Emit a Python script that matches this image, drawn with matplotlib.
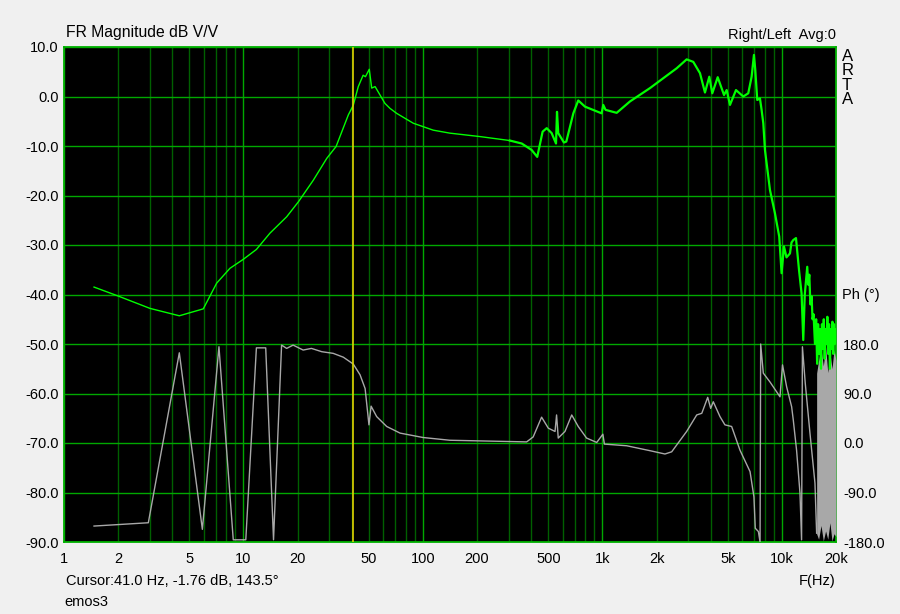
import matplotlib
matplotlib.use("Agg")
import matplotlib.pyplot as plt
import numpy as np

# --- magnitude response (Hz, dB) ---
mag_freq = [1.47, 2.0, 3.01, 4.39, 5.97, 7.09, 8.41, 9.97, 11.8, 14.05, 17.4, 20.2,
            24.5, 29.1, 32.8, 38.4, 40.9, 43.6, 46.4, 47.8, 50.2, 51.8, 54.1, 61.4,
            65.5, 71.3, 88.3, 114, 141, 208, 305, 355, 403, 433, 464, 489, 521, 551,
            558, 567, 610, 629, 688, 733, 799, 989, 1010, 1040, 1200, 1423, 1840,
            2182, 2590, 2944, 3205, 3494, 3724, 3937, 4090, 4385, 4755, 4920, 5133,
            5545, 6086, 6490, 6776, 6980, 7100, 7282, 7540, 7700, 7870, 8040, 8574,
            9140, 9655, 9950, 10260, 10600, 11080, 11300, 11560, 11970, 12440, 12860,
            13140, 13400, 13830, 14000, 14200, 14400, 14630, 14800, 15000, 15270,
            15500, 15700, 15900, 16100, 16300, 16500, 16700, 16900, 17100, 17300,
            17500, 17700, 17900, 18100, 18300, 18500, 18700, 18900, 19100, 19300,
            19500, 19700, 20000]
mag_db = [-38.5, -40.3, -42.8, -44.3, -42.9, -37.7, -34.7, -32.9, -30.9, -27.6, -24.3, -21.3,
          -16.9, -12.5, -10.1, -3.7, -1.76, 2.0, 4.3, 4.0, 5.5, 1.7, 2.0, -1.4,
          -2.4, -3.4, -5.4, -6.8, -7.4, -8.1, -8.9, -9.5, -10.8, -12.2, -7.1, -6.4, -7.4, -9.5,
          -3.1, -7.4, -9.3, -9.1, -3.4, -0.8, -2.05, -3.4, -1.7, -2.7, -3.3, -1.0, 1.7,
          3.7, 5.7, 7.5, 7.0, 4.7, 0.8, 4.0, 0.65, 3.9, 0.3, 1.3, -1.7,
          1.3, 0.0, 0.65, 4.0, 8.4, 5.4, -0.7, -0.4, -2.7, -5.4, -10.8, -18.9,
          -23.6, -28.3, -35.7, -30.3, -32.5, -31.7, -29.5, -29.0, -28.6, -35.0, -39.8,
          -49.2, -40.0, -34.4, -38.0, -36.0, -42.0, -40.4, -45.0, -44.0, -50.0,
          -45.0, -54.0, -46.0, -52.0, -47.0, -55.0, -46.0, -51.0, -45.0, -53.0,
          -47.0, -50.0, -44.5, -52.0, -46.0, -55.0, -47.0, -51.0, -45.5, -52.0,
          -46.0, -50.0, -47.0]

# --- phase response (Hz, degrees) ---
phase_freq = [1.47, 2.95, 4.39, 5.9, 7.3, 8.77, 10.3, 11.8, 13.3, 14.7, 16.3, 17.4,
              18.9, 21.5, 23.9, 27.3, 31.6, 36.0, 40.9, 44.6, 47.6, 50.0, 51.4, 55.2,
              62.8, 74.5, 100, 141, 378, 411, 458, 499, 544, 555, 567, 618, 674, 733,
              815, 929, 1005, 1025, 1364, 1840, 2229, 2430, 2944, 3350, 3575, 3857,
              4006, 4143, 4515, 4810, 5244, 5835, 6640, 6980, 7100, 7390, 7550, 7610,
              7870, 8574, 9750, 10070, 10620, 11320, 11560, 12060, 12600, 12860, 13000,
              13480, 14320, 15270, 15600]
phase_deg = [-151, -145, 164, -157, 175, -176, -176, 173, 173, -176, 178, 172,
             178, 169, 172, 166, 163, 156, 143.5, 124, 99, 33, 67, 48,
             30, 18, 10, 5, 2, 11, 47, 27, 21, 51, 9, 21, 51, 30,
             9, 1, 16, -2, -5, -14, -20, -16, 21, 51, 54, 83,
             63, 75, 48, 33, 30, -13, -52, -98, -155, -161, -180, 180,
             127, 111, 84, 142, 102, 66, 42, -13, -91, -176, 175,
             109, 18, -73, -164]

# wrapped-phase band above ~15.6 kHz (drawn filled)
band_freq = [15600, 16000, 16500, 17000, 17500, 18000, 18500, 19000, 19500, 20000]
band_top = [127, 150, 172, 140, 175, 128, 165, 135, 170, 150]
band_bot = [-165, -175, -150, -178, -160, -175, -145, -178, -165, -170]

x_ticks = [1, 2, 5, 10, 20, 50, 100, 200, 500, 1000, 2000, 5000, 10000, 20000]
x_labels = ["1", "2", "5", "10", "20", "50", "100", "200", "500", "1k", "2k", "5k", "10k", "20k"]
db_ticks = [10, 0, -10, -20, -30, -40, -50, -60, -70, -80, -90]
ph_ticks = [180, 90, 0, -90, -180]
cursor_hz = 41.0

BG = "#f0f0f0"
GRID_HI = "#00a800"
GRID_LO = "#006000"
MAG = "#00ff00"
PH = "#a8a8a8"

plt.rcParams["font.family"] = ["Liberation Sans", "DejaVu Sans"]
FS = 10.5

fig = plt.figure(figsize=(9.0, 6.14), dpi=100, facecolor=BG)
ax = fig.add_axes([64 / 900, 72 / 614, 772 / 900, 495 / 614])
ax.set_facecolor("black")
ax.set_xscale("log")
ax.set_xlim(1, 20000)
ax.set_ylim(-90, 10)

# grid: decades bright, others dark; horizontal every 10 dB
for dec in [1, 10, 100, 1000, 10000]:
    for m in range(1, 10):
        f = dec * m
        if f > 20000:
            break
        ax.axvline(f, color=GRID_HI if m == 1 else GRID_LO, lw=1.0, zorder=1)
for v in db_ticks:
    ax.axhline(v, color=GRID_HI, lw=1.0, zorder=1)

# phase on twin scale: -180..180 deg -> -90..-50 dB
ax2 = ax.twinx()
ax2.set_ylim(-180, 720)
ax2.plot(phase_freq, phase_deg, color=PH, lw=1.0, zorder=3)
ax2.fill_between(band_freq, band_bot, band_top, color=PH, lw=0, zorder=3)
ax2.set_yticks(ph_ticks)
ax2.set_yticklabels([f"{v:.1f}" for v in ph_ticks])
ax2.tick_params(axis="y", length=0, pad=5, labelsize=FS)
for s in ax2.spines.values():
    s.set_visible(False)

# magnitude on top (thin at low freqs, thicker where the trace is noisy)
ax3 = ax.twinx()
ax3.set_ylim(-90, 10)
ax3.axis("off")
mf = np.array(mag_freq)
md = np.array(mag_db)
low = mf <= 305
high = mf >= 305
ax3.plot(mf[low], md[low], color=MAG, lw=1.0, zorder=4)
ax3.plot(mf[high], md[high], color=MAG, lw=1.6, zorder=4)
ax3.axvline(cursor_hz, color="#e0d000", lw=1.2, zorder=5)

ax.set_xticks(x_ticks)
ax.set_xticklabels(x_labels)
ax.xaxis.set_minor_locator(matplotlib.ticker.NullLocator())
ax.set_yticks(db_ticks)
ax.set_yticklabels([f"{v:.1f}" for v in db_ticks])
ax.tick_params(axis="both", length=0, labelsize=FS)
ax.tick_params(axis="y", pad=4)
ax.tick_params(axis="x", pad=7)
for s in ax.spines.values():
    s.set_color("#00b000")
    s.set_linewidth(1.3)
    s.set_zorder(6)

# labels around the plot
fig.text(66 / 900, 1 - 33 / 614, "FR Magnitude dB V/V", fontsize=11.3, va="center", ha="left")
fig.text(836 / 900, 1 - 35 / 614, "Right/Left  Avg:0", fontsize=FS, va="center", ha="right")
fig.text(842 / 900, 1 - 78 / 614, "A\nR\nT\nA", fontsize=12, va="center", ha="left",
         linespacing=0.95)
fig.text(842 / 900, 1 - 295 / 614, "Ph (°)", fontsize=FS, va="center", ha="left")
fig.text(66 / 900, 1 - 581 / 614, "Cursor:41.0 Hz, -1.76 dB, 143.5°", fontsize=FS,
         va="center", ha="left")
fig.text(836 / 900, 1 - 581 / 614, "F(Hz)", fontsize=FS, va="center", ha="right")
fig.text(64 / 900, 1 - 602 / 614, "emos3", fontsize=FS, va="center", ha="left")

fig.savefig("out.png", dpi=100, facecolor=BG)
